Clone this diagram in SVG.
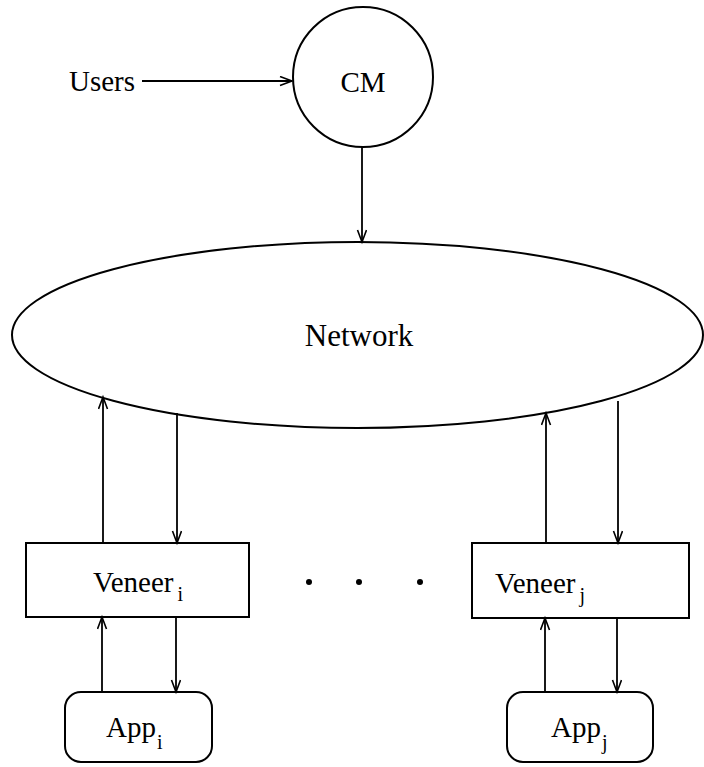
<svg xmlns="http://www.w3.org/2000/svg" width="704" height="767" viewBox="0 0 704 767">
<style>
.sh{fill:none;stroke:#000;stroke-width:2}
.ar{fill:none;stroke:#000;stroke-width:1.8}
text{font-family:"Liberation Serif","Times New Roman",serif;font-size:29px;fill:#000}
.big{font-size:31px}
.sub{font-size:20px}
</style>
<defs>
<marker id="ah" markerUnits="userSpaceOnUse" markerWidth="16" markerHeight="12" refX="13" refY="5" orient="auto" viewBox="0 0 16 12">
<path d="M1,0.5 L13,5 L1,9.5" fill="none" stroke="#000" stroke-width="1.6"/>
</marker>
</defs>
<rect width="704" height="767" fill="#fff"/>
<g id="users"><text x="69" y="91">Users</text></g>
<g id="cm"><circle class="sh" cx="363" cy="77" r="70"/><text x="363" y="92" text-anchor="middle">CM</text></g>
<g id="network"><ellipse class="sh" cx="357.5" cy="335" rx="345.5" ry="93"/><text class="big" x="359" y="346" text-anchor="middle">Network</text></g>
<g id="veneer_i"><rect class="sh" x="26" y="543" width="223" height="74"/><text x="93" y="592">Veneer<tspan class="sub" dx="4" dy="9">i</tspan></text></g>
<g id="veneer_j"><rect class="sh" x="472" y="543" width="217" height="75"/><text x="495" y="593">Veneer<tspan class="sub" dx="4" dy="9">j</tspan></text></g>
<g id="app_i"><rect class="sh" x="65" y="692" width="147" height="70" rx="16" ry="16"/><text x="106" y="737">App<tspan class="sub" dx="1" dy="12">i</tspan></text></g>
<g id="app_j"><rect class="sh" x="507" y="692" width="146" height="70" rx="16" ry="16"/><text x="551" y="737">App<tspan class="sub" dx="1" dy="12">j</tspan></text></g>
<g id="dots"><circle cx="309" cy="582" r="3"/><circle cx="359" cy="582" r="3"/><circle cx="420" cy="582" r="3"/></g>
<g id="connectors" class="ar">
<line x1="142" y1="81" x2="292" y2="81" marker-end="url(#ah)"/>
<line x1="362" y1="147" x2="362" y2="242" marker-end="url(#ah)"/>
<line x1="103" y1="543" x2="103" y2="397" marker-end="url(#ah)"/>
<line x1="177" y1="413" x2="177" y2="543" marker-end="url(#ah)"/>
<line x1="546" y1="543" x2="546" y2="413" marker-end="url(#ah)"/>
<line x1="618" y1="401" x2="618" y2="543" marker-end="url(#ah)"/>
<line x1="102" y1="692" x2="102" y2="617" marker-end="url(#ah)"/>
<line x1="176" y1="617" x2="176" y2="692" marker-end="url(#ah)"/>
<line x1="545" y1="692" x2="545" y2="618" marker-end="url(#ah)"/>
<line x1="617" y1="618" x2="617" y2="692" marker-end="url(#ah)"/>
</g>
</svg>
